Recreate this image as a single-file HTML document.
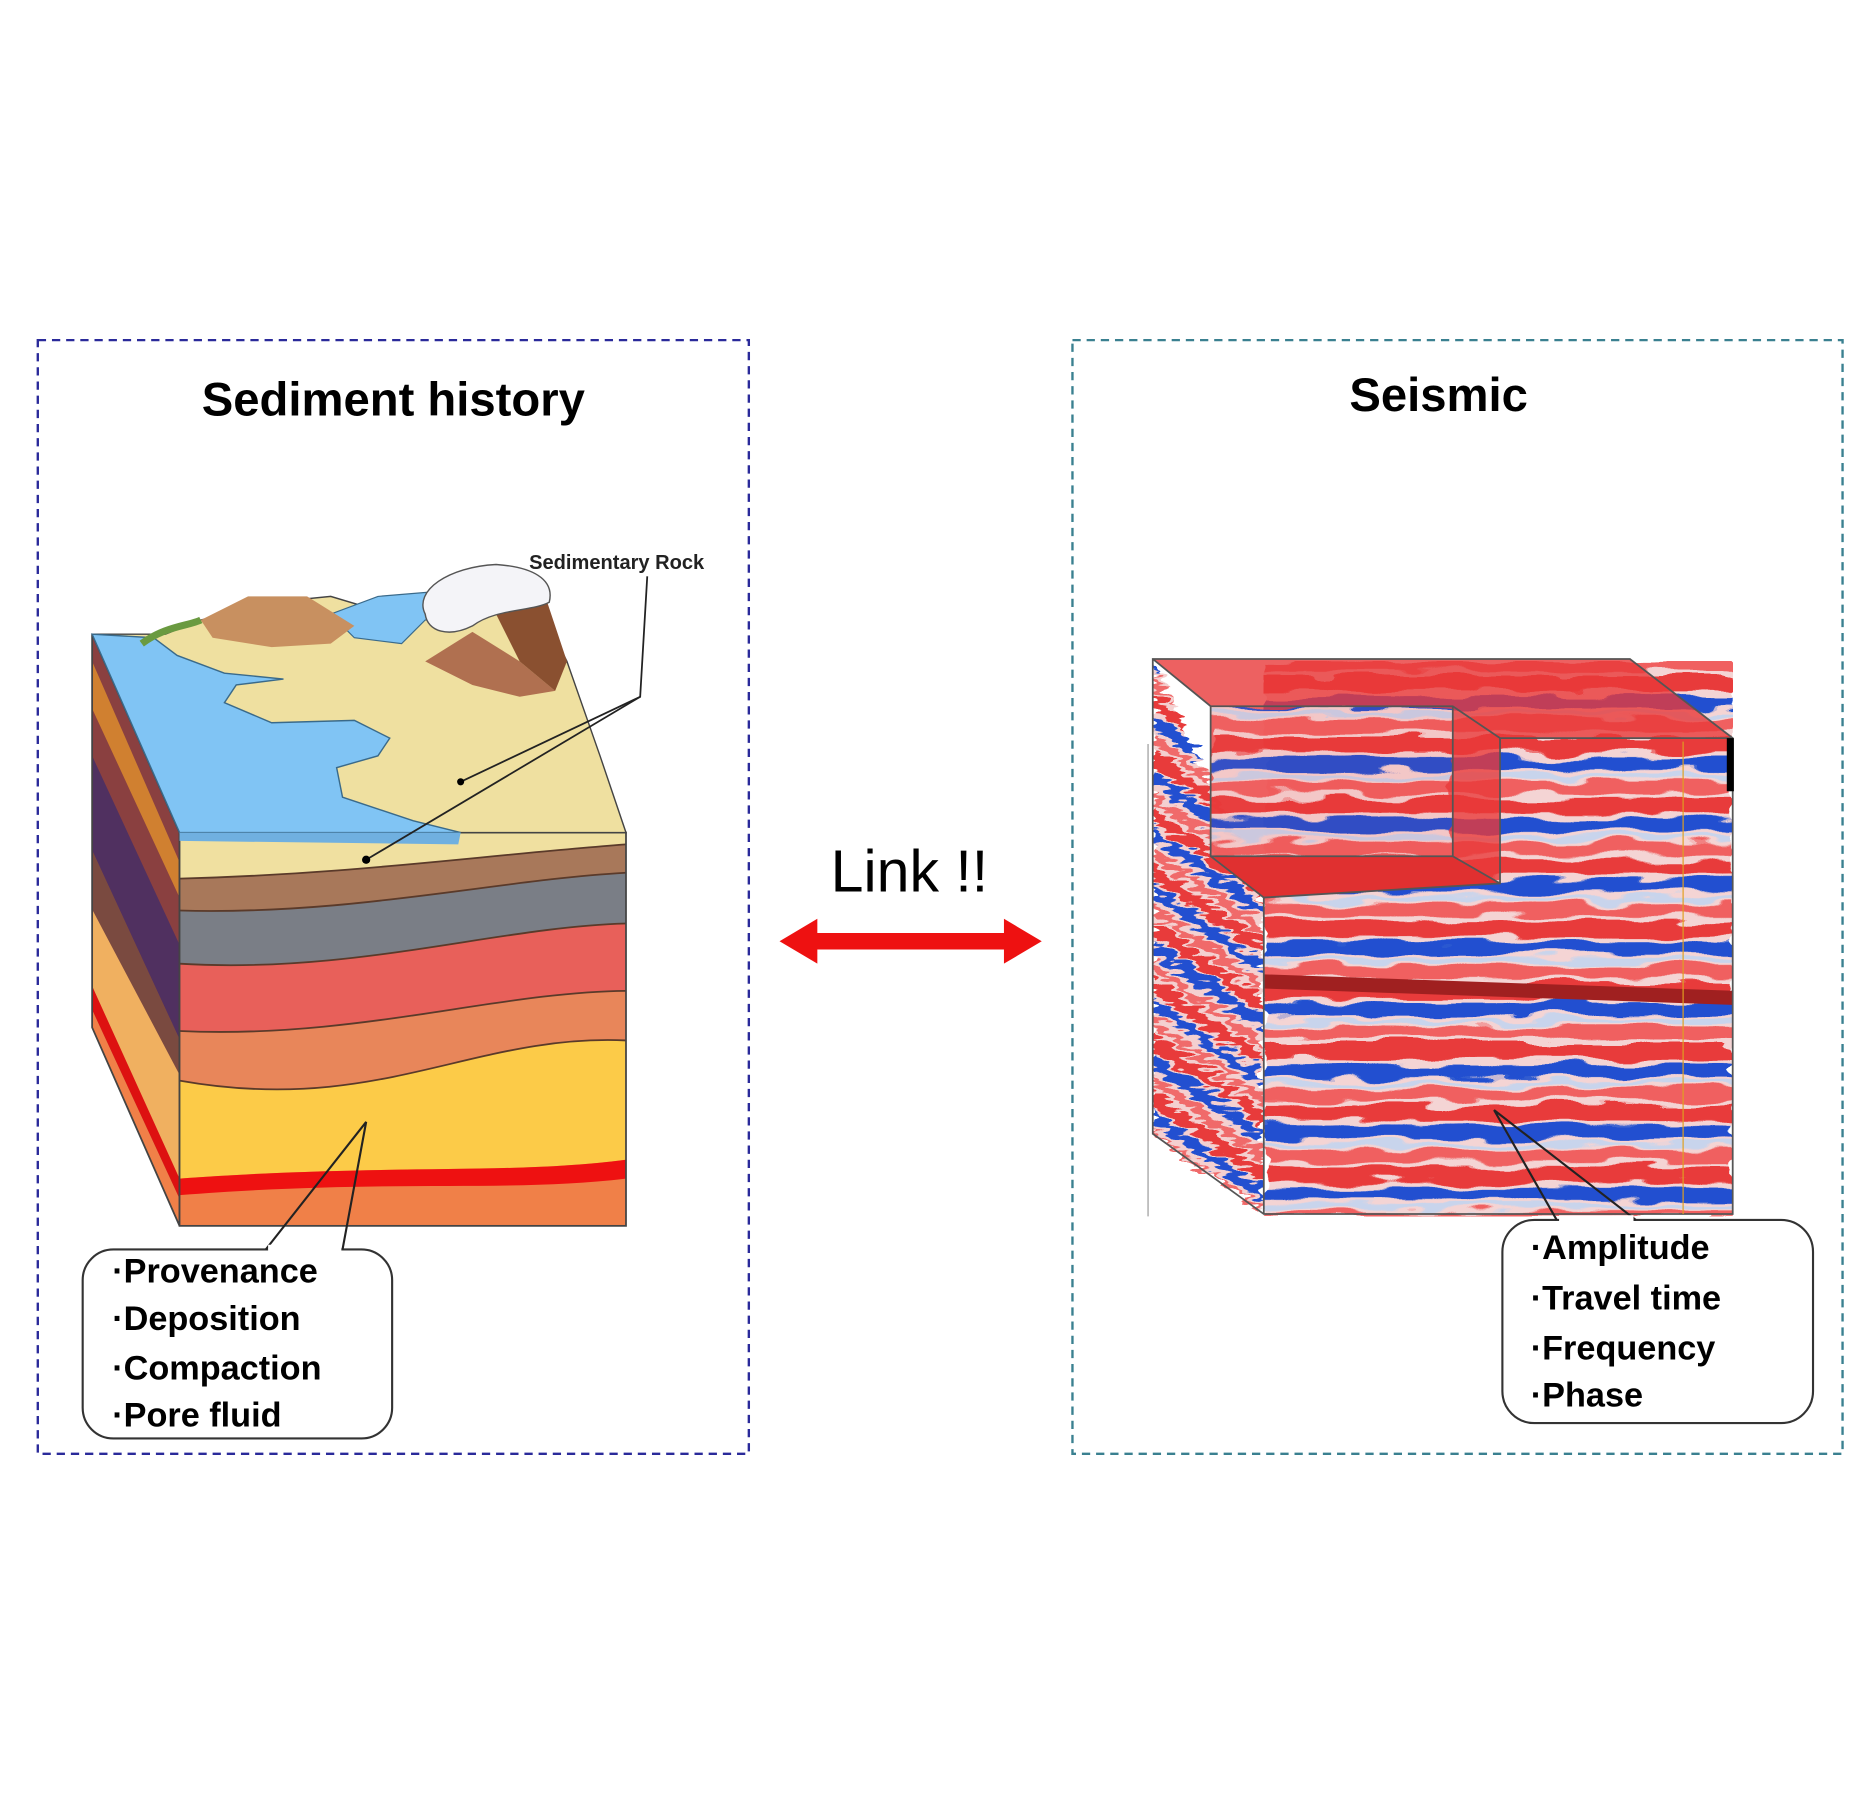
<!DOCTYPE html>
<html><head><meta charset="utf-8"><style>
html,body{margin:0;padding:0;background:#fff;}
svg{display:block;}
text{font-family:"Liberation Sans",sans-serif;}
</style></head><body>
<svg width="1852" height="1801" viewBox="0 0 1568 1525" preserveAspectRatio="none" xmlns="http://www.w3.org/2000/svg">
<defs>
<pattern id="st" width="400" height="52" patternUnits="userSpaceOnUse">
<rect width="400" height="52" fill="#f4d4d4"/>
<rect y="0" width="400" height="13" fill="#e83a3a"/>
<rect y="17" width="400" height="11" fill="#2050d0"/>
<rect y="31" width="400" height="4" fill="#c8d4ec"/>
<rect y="37" width="400" height="11" fill="#f06060"/>
</pattern>
<pattern id="st2" width="200" height="48" patternUnits="userSpaceOnUse" patternTransform="skewY(35)">
<rect width="200" height="48" fill="#f4d0d0"/>
<rect y="0" width="200" height="13" fill="#e83a3a"/>
<rect y="17" width="200" height="11" fill="#2050d0"/>
<rect y="34" width="200" height="9" fill="#f06a6a"/>
</pattern>
<filter id="wv" x="0" y="0" width="1" height="1">
<feTurbulence type="fractalNoise" baseFrequency="0.02 0.08" numOctaves="2" seed="3"/>
<feDisplacementMap in="SourceGraphic" scale="18" xChannelSelector="R" yChannelSelector="G"/>
</filter>
<filter id="ns" x="0" y="0" width="1" height="1">
<feTurbulence type="fractalNoise" baseFrequency="0.05 0.2" numOctaves="2" seed="7"/>
<feDisplacementMap in="SourceGraphic" scale="22" xChannelSelector="R" yChannelSelector="G"/>
</filter>
</defs>

<rect x="32" y="288" width="602" height="943" fill="none" stroke="#2a2a9a" stroke-width="2" stroke-dasharray="7,5"/>
<rect x="908" y="288" width="652" height="943" fill="none" stroke="#3a8090" stroke-width="2" stroke-dasharray="7,5"/>

<text x="333" y="352" font-size="40" font-weight="bold" text-anchor="middle" fill="#000">Sediment history</text>
<text x="1218" y="348" font-size="40" font-weight="bold" text-anchor="middle" fill="#000">Seismic</text>

<text x="770" y="755" font-size="50" text-anchor="middle" fill="#000">Link !!</text>
<polygon points="660,797 692,778 692,790 850,790 850,778 882,797 850,816 850,804 692,804 692,816" fill="#ee1111"/>

<polygon points="78,537 152,705 152,1038 78,870" fill="#8a4040"/>
<path d="M78,560 L152,730 L152,760 L78,600Z" fill="#d08030"/>
<path d="M78,640 L152,800 L152,880 L78,720Z" fill="#503060"/>
<path d="M78,720 L152,880 L152,910 L78,770Z" fill="#7a4a40"/>
<path d="M78,770 L152,910 L152,1005 L78,835Z" fill="#f0b060"/>
<path d="M78,835 L152,998 L152,1015 L78,855Z" fill="#dd1111"/>
<path d="M78,855 L152,1015 L152,1038 L78,870Z" fill="#f08048"/>
<polygon points="78,537 152,705 152,1038 78,870" fill="none" stroke="#444" stroke-width="1.5"/>

<rect x="152" y="705" width="378" height="333" fill="#f08048"/>
<path d="M152,705 L530,705 L530,715 C400,725 300,740 152,744Z" fill="#f0e0a0"/>
<path d="M152,744 C300,740 400,725 530,715 L530,739 C420,745 300,775 152,771Z" fill="#a8785a"/>
<path d="M152,771 C300,775 420,745 530,739 L530,782 C420,785 300,825 152,816Z" fill="#7a7e86"/>
<path d="M152,816 C300,825 420,785 530,782 L530,839 C420,840 300,880 152,873Z" fill="#e8605a"/>
<path d="M152,873 C300,880 420,840 530,839 L530,881 C400,875 320,945 152,915Z" fill="#e8865a"/>
<path d="M152,915 C320,945 400,875 530,881 L530,982 C430,995 330,985 152,998Z" fill="#fccb48"/>
<path d="M152,998 C330,985 430,995 530,982 L530,998 C430,1010 330,998 152,1012Z" fill="#ee1111"/>
<g fill="none" stroke="#5a3a2a" stroke-width="1.5">
<path d="M152,744 C300,740 400,725 530,715"/>
<path d="M152,771 C300,775 420,745 530,739"/>
<path d="M152,816 C300,825 420,785 530,782"/>
<path d="M152,873 C300,880 420,840 530,839"/>
<path d="M152,915 C320,945 400,875 530,881"/>
</g>
<rect x="152" y="705" width="378" height="333" fill="none" stroke="#444" stroke-width="1.5"/>

<path d="M78,537 L152,705 L530,705 L508,640 L480,560 L460,520 L420,500 L380,510 L330,520 L280,505 L230,510 L170,525 L140,537Z" fill="#efe0a0" stroke="#444" stroke-width="1.2"/>
<path d="M78,537 L152,705 L390,705 L350,695 L290,675 L285,650 L320,640 L330,625 L300,610 L230,612 L190,595 L200,580 L240,575 L190,570 L150,555 L130,540Z" fill="#80c4f4" stroke="#3a6a8a" stroke-width="1.2"/>
<path d="M152,705 L390,705 L388,715 L152,712Z" fill="#70b0e0"/>
<path d="M280,520 L300,540 L340,545 L360,525 L400,520 L380,500 L320,505Z" fill="#80c4f4" stroke="#3a6a8a"/>
<path d="M170,525 L210,505 L260,505 L300,530 L280,545 L230,548 L180,540Z" fill="#c89060"/>
<path d="M360,560 L400,535 L440,560 L470,585 L440,590 L400,580Z" fill="#b07050"/>
<path d="M420,520 L460,500 L480,560 L470,585 L440,560Z" fill="#8a5030"/>
<path d="M360,520 C350,500 380,480 420,478 C450,480 470,490 465,510 C450,518 420,515 400,530 C380,540 362,535 360,520Z" fill="#f4f4f8" stroke="#555" stroke-width="1.2"/>
<path d="M120,545 C140,530 160,530 170,525" fill="none" stroke="#6a9a40" stroke-width="6"/>

<text x="448" y="482" font-size="17" font-weight="bold" fill="#222">Sedimentary Rock</text>
<g stroke="#222" stroke-width="1.5" fill="none">
<polyline points="548,488 542,590 390,662"/>
<polyline points="542,590 310,728"/>
</g>
<circle cx="390" cy="662" r="3" fill="#000"/>
<circle cx="310" cy="728" r="3.5" fill="#000"/>

<rect x="70" y="1058" width="262" height="160" rx="26" fill="#fff" stroke="#333" stroke-width="1.8"/>
<polyline points="225,1058 310,950 290,1058" fill="none" stroke="#222" stroke-width="1.8"/>
<rect x="227" y="1054" width="62" height="6" fill="#fff"/>
<g font-size="29" font-weight="bold" fill="#000">
<text x="95" y="1086">·Provenance</text>
<text x="95" y="1126">·Deposition</text>
<text x="95" y="1168">·Compaction</text>
<text x="95" y="1208">·Pore fluid</text>
</g>

<g filter="url(#ns)">
<polygon points="976,558 1070,760 1070,1028 976,960" fill="url(#st2)"/>
</g>
<g filter="url(#wv)">
<rect x="1070" y="560" width="397" height="470" fill="url(#st)"/>
</g>
<polygon points="976,558 1380,558 1467,625 1270,625 1270,745 1070,760 1025,720 1025,598 976,558" fill="#e83a3a" opacity="0.8"/>
<rect x="1025" y="598" width="205" height="127" fill="url(#st)" opacity="0.9" filter="url(#wv)"/>
<polygon points="1025,725 1230,725 1270,748 1070,760" fill="#e03030"/>
<rect x="1070" y="832" width="397" height="12" fill="#a02020" transform="rotate(2 1270 838)"/>
<g fill="none" stroke="#555" stroke-width="1.5">
<polygon points="976,558 1380,558 1467,625 1467,1028 1070,1028 976,960"/>
<polyline points="1070,760 1070,1028"/>
<polyline points="976,558 1025,598 1230,598 1270,625 1467,625"/>
<polyline points="1025,598 1025,725 1230,725 1230,598"/>
<polyline points="1025,725 1070,760 1270,748 1270,625"/>
<polyline points="1230,725 1270,748"/>
</g>
<line x1="1425" y1="628" x2="1425" y2="1028" stroke="#e0a020" stroke-width="1"/>
<rect x="1462" y="625" width="6" height="45" fill="#000"/>
<line x1="972" y1="630" x2="972" y2="1030" stroke="#999" stroke-width="1"/>

<rect x="1272" y="1033" width="263" height="172" rx="27" fill="#fff" stroke="#333" stroke-width="1.8"/>
<polyline points="1318,1033 1265,940 1385,1033" fill="none" stroke="#222" stroke-width="1.8"/>
<rect x="1320" y="1029" width="63" height="6" fill="#fff"/>
<g font-size="29" font-weight="bold" fill="#000">
<text x="1296" y="1066">·Amplitude</text>
<text x="1296" y="1109">·Travel time</text>
<text x="1296" y="1151">·Frequency</text>
<text x="1296" y="1191">·Phase</text>
</g>
</svg>
</body></html>
